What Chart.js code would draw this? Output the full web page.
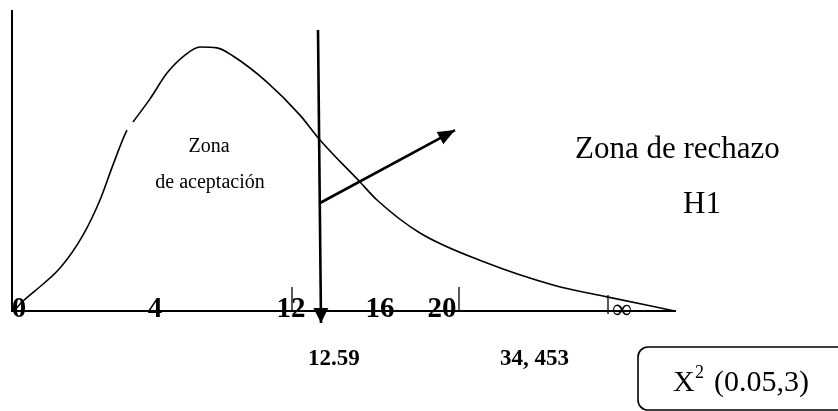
<!DOCTYPE html>
<html lang="es">
<head>
<meta charset="utf-8">
<title>Zona de aceptación / Zona de rechazo</title>
<script src="https://cdn.jsdelivr.net/npm/chart.js@4.4.1/dist/chart.umd.min.js"></script>
<style>
  html, body { margin: 0; padding: 0; background: #fff; }
  #wrap { position: relative; width: 838px; height: 411px; }
</style>
</head>
<body>
<div id="wrap"><canvas id="chart" width="838" height="411"></canvas></div>
<script>
// curva dibujada a mano (unidades del dibujo: x 0..66.3, y 0..100)
const curvaX = [0.2, 1.0, 2.3, 4.8, 7.1, 8.8, 10.1, 11.5, 12.1, 13.8, 15.5, 17.3, 18.8, 20.5, 22.1, 25.5, 28.8, 30.8, 34.8, 36.5, 40.8, 47.5, 54.1, 59.5, 66.3];
const curvaY = [0, 3, 6.7, 14.3, 25.3, 37, 48.7, 60.3, 63, 70.7, 79.3, 85.3, 88, 87.7, 85, 76.3, 65.3, 57, 43, 37, 26, 16, 8.7, 4.7, 0];
const corteCurva = 7; // tramo en blanco de la curva

// etiquetas del eje x y su posicion
const etiquetasX = ["0", "4", "12", "16", "20", "\u221E"];
const posEtiquetasX = [0.7, 14.3, 27.9, 36.8, 43, 61];

// rayitas verticales sobre el eje
const rayitasX = [28, 44.7, 59.6];
const rayitasTope = [8, 8, 5.3];
const rayitasBase = [0, 0, -1];

// flechas (inicio -> punta)
const flechaVertX = [30.6, 30.9];
const flechaVertY = [93.7, -4];
const flechaDiagX = [30.8, 44.3];
const flechaDiagY = [36, 60.3];

const SERIF = '"Liberation Serif", "Times New Roman", serif';

const pts = (xs, ys) => xs.map((x, i) => ({ x, y: ys[i] }));

const datasets = [
  {
    data: pts(curvaX, curvaY),
    showLine: true,
    borderColor: "#000",
    borderWidth: 1.6,
    pointRadius: 0,
    cubicInterpolationMode: "monotone",
    segment: { borderColor: (c) => (c.p0DataIndex === corteCurva ? "rgba(0,0,0,0)" : "#000") }
  },
  { data: pts(flechaVertX, flechaVertY), showLine: true, borderColor: "#000", borderWidth: 2.6, pointRadius: 0, clip: false, punta: { largo: 15, ancho: 7.5 } },
  { data: pts(flechaDiagX, flechaDiagY), showLine: true, borderColor: "#000", borderWidth: 2.6, pointRadius: 0, clip: false, punta: { largo: 17, ancho: 7 } }
];
rayitasX.forEach((x, i) => {
  datasets.push({ data: [{ x, y: rayitasBase[i] }, { x, y: rayitasTope[i] }], showLine: true, borderColor: "#000", borderWidth: 1.3, pointRadius: 0, clip: false });
});

const puntas = {
  id: "puntas",
  afterDatasetsDraw(chart) {
    const ctx = chart.ctx;
    chart.data.datasets.forEach((ds, i) => {
      if (!ds.punta) return;
      const p = chart.getDatasetMeta(i).data;
      const a = p[p.length - 2], b = p[p.length - 1];
      const ang = Math.atan2(b.y - a.y, b.x - a.x);
      ctx.save();
      ctx.translate(b.x, b.y);
      ctx.rotate(ang);
      ctx.beginPath();
      ctx.moveTo(0, 0);
      ctx.lineTo(-ds.punta.largo, -ds.punta.ancho);
      ctx.lineTo(-ds.punta.largo, ds.punta.ancho);
      ctx.closePath();
      ctx.fillStyle = "#000";
      ctx.fill();
      ctx.restore();
    });
  }
};

function texto(ctx, s, x, y, font, align) {
  ctx.font = font;
  ctx.textAlign = align || "left";
  ctx.fillText(s, x, y);
}

const textos = {
  id: "textos",
  afterDraw(chart) {
    const ctx = chart.ctx;
    const sx = chart.scales.x;
    ctx.save();
    ctx.fillStyle = "#000";
    ctx.textBaseline = "alphabetic";
    etiquetasX.forEach((t, i) => {
      const x = sx.getPixelForValue(posEtiquetasX[i]);
      if (t === "\u221E") texto(ctx, t, x, 318, "28px " + SERIF, "center");
      else texto(ctx, t, x, 317, "bold 29px " + SERIF, "center");
    });

    texto(ctx, "Zona", 209, 152, "20px " + SERIF, "center");
    texto(ctx, "de aceptación", 210, 188, "20px " + SERIF, "center");
    texto(ctx, "Zona de rechazo", 575, 158, "31px " + SERIF);
    texto(ctx, "H1", 683, 213, "31px " + SERIF);
    texto(ctx, "12.59", 308, 365, "bold 23px " + SERIF);
    texto(ctx, "34, 453", 500, 365, "bold 23px " + SERIF);

    // recuadro redondeado
    const bx = 638, by = 347, bw = 230, bh = 63, r = 10;
    ctx.beginPath();
    ctx.moveTo(bx + bw, by);
    ctx.lineTo(bx + r, by);
    ctx.arcTo(bx, by, bx, by + r, r);
    ctx.lineTo(bx, by + bh - r);
    ctx.arcTo(bx, by + bh, bx + r, by + bh, r);
    ctx.lineTo(bx + bw, by + bh);
    ctx.lineWidth = 1.6;
    ctx.strokeStyle = "#000";
    ctx.stroke();

    texto(ctx, "X", 673, 391, "30px " + SERIF);
    texto(ctx, "2", 695, 378, "18px " + SERIF);
    texto(ctx, "(0.05,3)", 714, 391, "30px " + SERIF);
    ctx.restore();
  }
};

new Chart(document.getElementById("chart"), {
  type: "scatter",
  data: { datasets },
  options: {
    responsive: false,
    animation: false,
    events: [],
    layout: { padding: { left: 12, right: 163, top: 11, bottom: 100 } },
    plugins: { legend: { display: false }, tooltip: { enabled: false } },
    scales: {
      x: {
        type: "linear", min: 0, max: 66.3,
        grid: { display: false, drawTicks: false }, ticks: { display: false },
        border: { display: true, color: "#000", width: 2 }
      },
      y: {
        min: 0, max: 100,
        grid: { display: false, drawTicks: false }, ticks: { display: false },
        border: { display: true, color: "#000", width: 2 }
      }
    }
  },
  plugins: [puntas, textos]
});
</script>
</body>
</html>
